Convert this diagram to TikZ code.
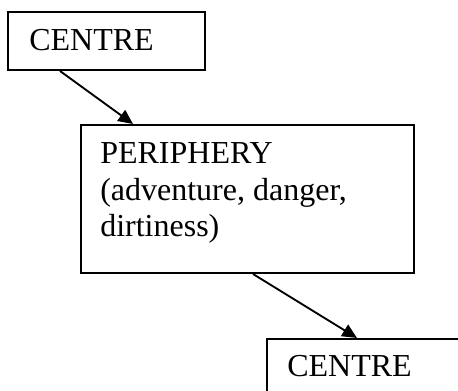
\documentclass[tikz,border=0pt]{standalone}
\usepackage{fontspec}
\setmainfont{Liberation Serif}
\usetikzlibrary{positioning, arrows.meta, calc}

\tikzset{
  box/.style={draw, line width=1.5pt, rectangle, inner sep=0pt, anchor=north west},
  boxtext/.style={anchor=base west, inner sep=0pt, align=left, font=\fontsize{24}{27.4}\selectfont},
  link/.style={-{Triangle[length=11pt, width=10pt]}, line width=1.4pt},
}

\begin{document}
\begin{tikzpicture}[x=0.75pt, y=-0.75pt]
    \useasboundingbox (0,0) rectangle (458,391);
    \clip (0,0) rectangle (458,391);

    % Top box
    \node[box, minimum width=147.75pt, minimum height=43.5pt] (centreA) at (7,11) {};
    \node[boxtext] (centreAtext) at ($(centreA.north west)+(22,40)$) {CENTRE};

    % Middle box
    \node[box, minimum width=249.75pt, minimum height=111pt] (periph) at (80,124) {};
    \node[boxtext] (periphtext) at ($(periph.north west)+(20,113)$) {PERIPHERY\\(adventure, danger,\\dirtiness)};

    % Bottom box (runs off the page)
    \node[box, minimum width=150pt, minimum height=52.5pt] (centreB) at (266,338) {};
    \node[boxtext] (centreBtext) at ($(centreB.north west)+(21,39)$) {CENTRE};

    % Arrows
    \draw[link] ($(centreA.south west)+(53,0)$) -- ($(periph.north west)+(53,0)$);
    \draw[link] ($(periph.south west)+(173,0)$) -- ($(centreB.north west)+(91,0)$);

\end{tikzpicture}
\end{document}
